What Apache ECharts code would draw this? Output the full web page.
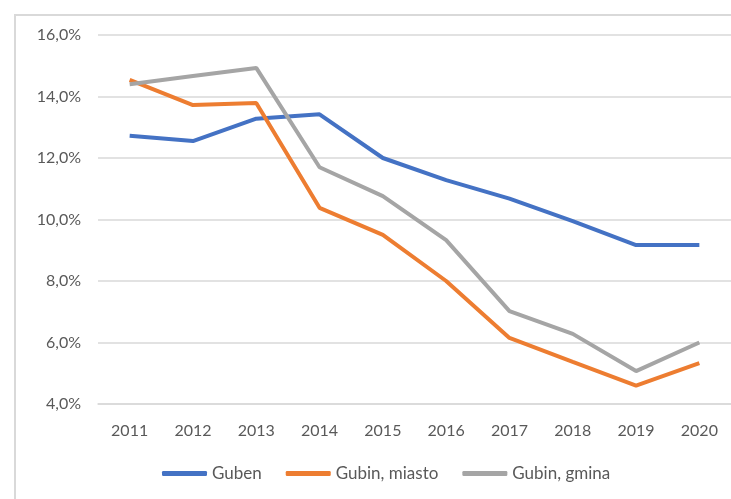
<!DOCTYPE html>
<html>
<head>
<meta charset="utf-8">
<script src="https://cdn.jsdelivr.net/npm/echarts@6/dist/echarts.min.js"></script>
<style>
  html, body { margin: 0; padding: 0; background: #fff; }
  #chart { width: 731px; height: 499px; }
</style>
</head>
<body>
<div id="chart"></div>
<script>
var years = ['2011', '2012', '2013', '2014', '2015', '2016', '2017', '2018', '2019', '2020'];
var guben = [12.72, 12.55, 13.28, 13.42, 12.0, 11.28, 10.68, 9.95, 9.17, 9.17];
var gubinMiasto = [14.54, 13.72, 13.79, 10.38, 9.5, 8.0, 6.15, 5.37, 4.6, 5.33];
var gubinGmina = [14.4, 14.67, 14.93, 11.7, 10.76, 9.33, 7.02, 6.28, 5.07, 6.0];

var myChart = echarts.init(document.getElementById('chart'));
var fontFamily = 'Lato, "Open Sans", sans-serif';

var option = {
  animation: false,
  // ramka wykresu
  graphic: [{
    type: 'rect',
    shape: { x: 15, y: 15, width: 800, height: 800 },
    style: { fill: 'none', stroke: '#d9d9d9', lineWidth: 2 },
    silent: true
  }],
  grid: {
    left: 98,
    top: 35,
    width: 636,
    height: 369
  },
  xAxis: {
    type: 'category',
    boundaryGap: true,
    data: years,
    axisLine: { lineStyle: { color: '#d9d9d9', width: 1.5 } },
    axisTick: { show: false },
    axisLabel: { color: '#595959', fontSize: 16, fontFamily: fontFamily, margin: 19 }
  },
  yAxis: {
    type: 'value',
    min: 4,
    max: 16,
    interval: 2,
    axisLine: { show: false },
    axisTick: { show: false },
    splitLine: { lineStyle: { color: '#d9d9d9', width: 1.5 } },
    axisLabel: {
      color: '#595959',
      fontSize: 16,
      fontFamily: fontFamily,
      margin: 17,
      formatter: function (v) {
        return v.toFixed(1).replace('.', ',') + '%';
      }
    }
  },
  legend: {
    bottom: 12,
    left: 157,
    itemWidth: 45,
    itemHeight: 5,
    itemGap: 24,
    icon: 'roundRect',
    textStyle: { color: '#595959', fontSize: 17, fontFamily: fontFamily },
    data: ['Guben', 'Gubin, miasto', 'Gubin, gmina']
  },
  series: [
    {
      name: 'Guben',
      type: 'line',
      data: guben,
      showSymbol: false,
      symbol: 'none',
      lineStyle: { color: '#4472c4', width: 4 },
      itemStyle: { color: '#4472c4' }
    },
    {
      name: 'Gubin, miasto',
      type: 'line',
      data: gubinMiasto,
      showSymbol: false,
      symbol: 'none',
      lineStyle: { color: '#ed7d31', width: 4 },
      itemStyle: { color: '#ed7d31' }
    },
    {
      name: 'Gubin, gmina',
      type: 'line',
      data: gubinGmina,
      showSymbol: false,
      symbol: 'none',
      lineStyle: { color: '#a5a5a5', width: 4 },
      itemStyle: { color: '#a5a5a5' }
    }
  ]
};
myChart.setOption(option);
</script>
</body>
</html>
